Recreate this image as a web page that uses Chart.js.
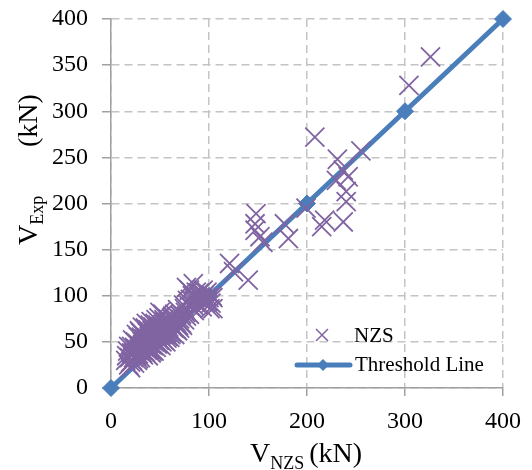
<!DOCTYPE html>
<html>
<head>
<meta charset="utf-8">
<script src="https://cdn.jsdelivr.net/npm/chart.js@4.4.1/dist/chart.umd.min.js"></script>
<style>
  html, body { margin: 0; padding: 0; background: #fff; }
</style>
</head>
<body>
<canvas id="myChart" width="532" height="470"></canvas>
<script>
// tick values
var xTicks = [0, 100, 200, 300, 400];
var yTicks = [0, 50, 100, 150, 200, 250, 300, 350, 400];

var nzsX = [15, 17, 18, 19, 20, 21, 22, 23, 24, 25, 25, 26, 27, 28, 28, 29, 30, 30, 31, 32,
            33, 33, 34, 35, 35, 36, 37, 37, 38, 38, 39, 40, 40, 41, 42, 42, 43, 44, 44, 45,
            45, 46, 47, 47, 48, 49, 49, 50, 51, 52, 52, 53, 54, 55, 55, 56, 57, 58, 58, 59,
            60, 61, 62, 63, 64, 65, 66, 67, 68, 69, 70, 71, 72, 74, 75, 76, 78, 80, 80, 82,
            83, 85, 86, 88, 89, 90, 92, 93, 95, 96, 98, 99, 100, 101, 102, 103,
            16, 18, 20, 21, 22, 23, 24, 26, 26, 27, 28, 29, 29, 30, 31, 32, 32, 33, 34, 34,
            35, 36, 36, 37, 38, 39, 39, 40, 41, 41, 42, 43, 43, 44, 45, 46, 46, 47, 48, 48,
            49, 50, 50, 51, 52, 53, 54, 55, 56, 57, 58, 59, 60, 61, 62, 63, 64, 65, 66, 67,
            68, 70, 72, 73, 75, 77, 79, 81, 84, 87, 91, 94, 97,
            77, 84, 104, 104, 121, 125, 140, 148, 147, 147, 152, 155, 177, 181, 199, 215,
            218, 237, 240, 240, 242, 230, 237, 231, 255, 208, 304, 326];
var nzsY = [30, 40, 25, 33, 22, 45, 30, 38, 27, 50, 35, 42, 30, 55, 37, 46, 33, 60, 40, 50,
            36, 57, 44, 39, 65, 52, 41, 60, 35, 48, 56, 43, 68, 38, 52, 62, 46, 40, 58, 70,
            50, 44, 64, 55, 48, 76, 60, 52, 46, 68, 58, 80, 52, 63, 72, 50, 60, 56, 75, 66,
            55, 70, 60, 78, 65, 58, 72, 63, 85, 68, 65, 78, 70, 90, 74, 82, 95, 106, 80, 88,
            100, 84, 94, 98, 90, 103, 95, 88, 100, 92, 104, 94, 98, 86, 92, 100,
            35, 45, 28, 38, 52, 33, 44, 36, 58, 48, 32, 40, 62, 45, 55, 38, 66, 47, 53, 40,
            48, 44, 70, 54, 63, 42, 50, 58, 47, 72, 40, 55, 66, 50, 60, 74, 56, 48, 68, 57,
            52, 64, 82, 58, 50, 66, 74, 58, 68, 54, 64, 72, 62, 58, 76, 66, 72, 80, 64, 70,
            62, 75, 80, 68, 86, 78, 90, 96, 90, 104, 98, 106, 98,
            109, 113, 98, 86, 135, 126, 117, 189, 178, 171, 164, 158, 178, 162, 195, 175,
            182, 180, 202, 213, 229, 225, 236, 248, 257, 272, 328, 359];

// threshold line V_Exp = V_NZS
var lineX = [0, 100, 200, 300, 400];
var lineY = [0, 100, 200, 300, 400];

var serif = "'Liberation Serif', 'Times New Roman', serif";
var purple = '#8064A2';
var blue = '#4A7EBB';

var nzsPoints = nzsX.map(function (x, i) { return { x: x, y: nzsY[i] }; });
var linePoints = lineX.map(function (x, i) { return { x: x, y: lineY[i] }; });

// axis titles with subscripts + legend inside the plot
var extras = {
  id: 'extras',
  afterDraw: function (chart) {
    var ctx = chart.ctx;
    var area = chart.chartArea;
    ctx.save();
    ctx.fillStyle = '#000';
    ctx.textBaseline = 'alphabetic';
    ctx.textAlign = 'left';

    // x title: V_NZS (kN)
    var big = '28px ' + serif, small = '18px ' + serif;
    ctx.font = big;
    var wV = ctx.measureText('V').width;
    var wK = ctx.measureText(' (kN)').width;
    ctx.font = small;
    var wS = ctx.measureText('NZS').width;
    var x0 = (area.left + area.right) / 2 - (wV + wS + wK) / 2;
    var base = 461.5;
    ctx.font = big;
    ctx.fillText('V', x0, base);
    ctx.font = small;
    ctx.fillText('NZS', x0 + wV, base + 7.5);
    ctx.font = big;
    ctx.fillText(' (kN)', x0 + wV + wS - 2, base);

    // y title: V_Exp (kN), rotated
    ctx.save();
    ctx.translate(37, 245);
    ctx.rotate(-Math.PI / 2);
    ctx.font = big;
    ctx.fillText('V', 0, 0);
    ctx.font = small;
    ctx.fillText('Exp', wV, 6);
    ctx.font = big;
    ctx.fillText('(kN)', 98, 0);
    ctx.restore();

    // legend
    ctx.font = '21px ' + serif;
    ctx.textBaseline = 'middle';
    ctx.strokeStyle = purple;
    ctx.lineWidth = 1.5;
    ctx.beginPath();
    ctx.moveTo(316, 329); ctx.lineTo(328, 341);
    ctx.moveTo(328, 329); ctx.lineTo(316, 341);
    ctx.stroke();
    ctx.fillText(chart.data.datasets[0].label, 354, 336);

    ctx.strokeStyle = blue;
    ctx.lineWidth = 5;
    ctx.lineCap = 'round';
    ctx.beginPath();
    ctx.moveTo(297, 365); ctx.lineTo(350, 365);
    ctx.stroke();
    ctx.fillStyle = blue;
    ctx.beginPath();
    ctx.moveTo(323, 359); ctx.lineTo(329, 365); ctx.lineTo(323, 371); ctx.lineTo(317, 365);
    ctx.closePath();
    ctx.fill();
    ctx.fillStyle = '#000';
    ctx.fillText(chart.data.datasets[1].label, 355, 365);
    ctx.restore();
  }
};

var ctx = document.getElementById('myChart').getContext('2d');
var myChart = new Chart(ctx, {
  type: 'scatter',
  data: {
    datasets: [
      {
        label: 'NZS',
        data: nzsPoints,
        pointStyle: 'crossRot',
        pointRadius: 13.5,
        borderColor: purple,
        backgroundColor: purple,
        pointBorderWidth: 1.8,
        clip: false,
      },
      {
        label: 'Threshold Line',
        data: linePoints,
        showLine: true,
        borderColor: blue,
        backgroundColor: blue,
        borderWidth: 5,
        pointStyle: 'rectRot',
        pointRadius: 8.5,
        pointBorderWidth: 1,
        clip: false,
      },
    ],
  },
  options: {
    responsive: false,
    animation: false,
    devicePixelRatio: 1,
    layout: { padding: { left: 0, right: 29, top: 19, bottom: 0 } },
    plugins: {
      legend: { display: false },
      tooltip: { enabled: false },
    },
    scales: {
      x: {
        type: 'linear',
        min: 0,
        max: 400,
        afterBuildTicks: function (s) { s.ticks = xTicks.map(function (v) { return { value: v }; }); },
        afterFit: function (s) { s.height = 82; s.paddingLeft = 0; s.paddingRight = 0; },
        grid: { color: '#c4c4c4', lineWidth: 1.5, tickLength: 8, tickColor: '#a0a0a0', tickWidth: 1.5 },
        border: { color: '#a0a0a0', width: 1.5, dash: [8, 5] },
        ticks: { color: '#000', font: { family: serif, size: 24 }, padding: 11, maxRotation: 0 },
      },
      y: {
        type: 'linear',
        min: 0,
        max: 400,
        afterBuildTicks: function (s) { s.ticks = yTicks.map(function (v) { return { value: v }; }); },
        afterFit: function (s) { s.width = 111; s.paddingTop = 0; s.paddingBottom = 0; },
        grid: { color: '#c4c4c4', lineWidth: 1.5, tickLength: 9, tickColor: '#a0a0a0', tickWidth: 1.5 },
        border: { color: '#a0a0a0', width: 1.5, dash: [8, 5] },
        ticks: { color: '#000', font: { family: serif, size: 24 }, padding: 14 },
      },
    },
  },
  plugins: [extras],
});
</script>
</body>
</html>
